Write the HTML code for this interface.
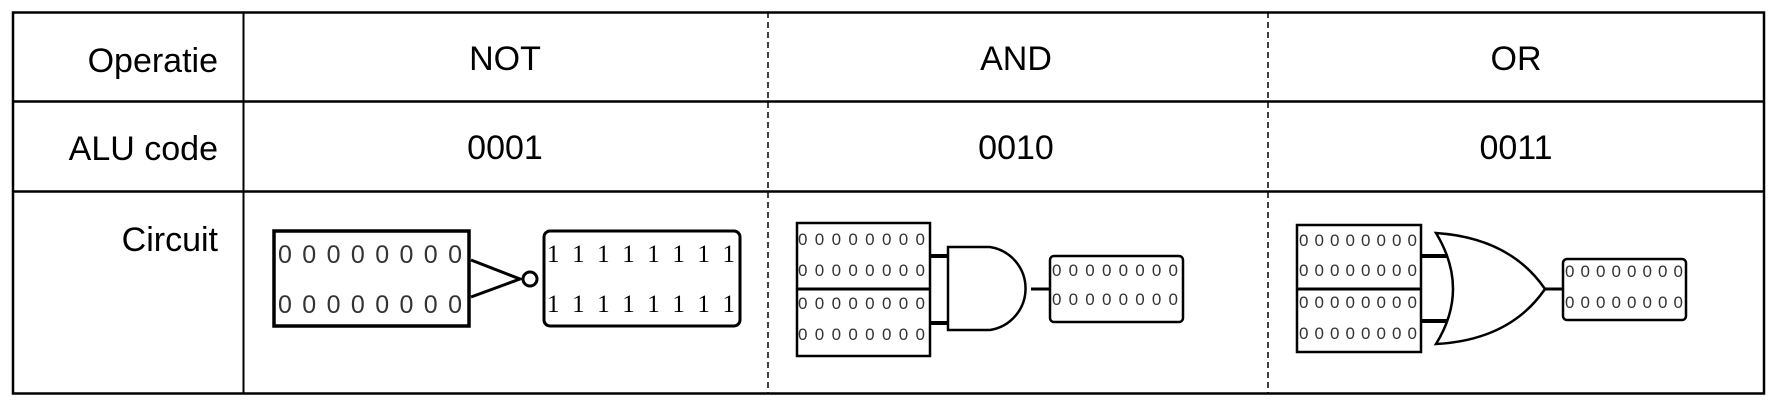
<!DOCTYPE html>
<html><head><meta charset="utf-8"><style>
html,body{margin:0;padding:0;background:#fff;}
svg{display:block;}
</style></head><body>
<svg width="1773" height="405" viewBox="0 0 1773 405" xmlns="http://www.w3.org/2000/svg">
<g font-family="Liberation Sans, Arial, sans-serif" font-size="34" fill="#000">
<text x="218" y="72" text-anchor="end">Operatie</text>
<text x="218" y="160" text-anchor="end">ALU code</text>
<text x="218" y="251" text-anchor="end">Circuit</text>
<text x="505" y="70" text-anchor="middle">NOT</text>
<text x="1016" y="70" text-anchor="middle">AND</text>
<text x="1516" y="70" text-anchor="middle">OR</text>
<text x="505" y="159" text-anchor="middle">0001</text>
<text x="1016" y="159" text-anchor="middle">0010</text>
<text x="1516" y="159" text-anchor="middle">0011</text>
</g>
<g stroke="#000" fill="none">
<rect x="13" y="12.5" width="1751" height="381" stroke-width="2.5"/>
<line x1="13" y1="101.5" x2="1764" y2="101.5" stroke-width="2.5"/>
<line x1="13" y1="191.5" x2="1764" y2="191.5" stroke-width="2.5"/>
<line x1="243.5" y1="12" x2="243.5" y2="394" stroke-width="2"/>
<line x1="768" y1="12" x2="768" y2="394" stroke-width="1.5" stroke-dasharray="6,4"/>
<line x1="1268" y1="12" x2="1268" y2="394" stroke-width="1.5" stroke-dasharray="6,4"/>
</g>
<!-- NOT -->
<g stroke="#000" fill="none" stroke-width="3.5">
<rect x="274" y="231" width="195" height="95"/>
<rect x="544" y="231" width="196" height="95" rx="6" stroke-width="3"/>
<path d="M471 260 L520 279 L471 297" stroke-width="3"/>
<circle cx="530" cy="279" r="7" stroke-width="3"/>
</g>
<g font-family="Liberation Sans, sans-serif" fill="#333" font-size="25">
<text x="278" y="263" textLength="184" lengthAdjust="spacing" transform="">00000000</text>
<text x="278" y="313" textLength="184" lengthAdjust="spacing">00000000</text>
</g>
<g font-family="Liberation Serif, serif" fill="#000" font-size="25">
<text x="547" y="262" textLength="188" lengthAdjust="spacing">11111111</text>
<text x="547" y="312" textLength="188" lengthAdjust="spacing">11111111</text>
</g>
<!-- AND -->
<g stroke="#000" fill="none" stroke-width="2.5">
<rect x="797" y="223" width="133" height="133"/>
<line x1="797" y1="289" x2="930" y2="289" stroke-width="3"/>
<line x1="930" y1="256" x2="948" y2="256" stroke-width="4"/>
<line x1="930" y1="323" x2="948" y2="323" stroke-width="4"/>
<path d="M948 247 L990 247 A42 42 0 0 1 990 330 L948 330 Z"/>
<line x1="1031" y1="289" x2="1050" y2="289" stroke-width="3"/>
<rect x="1050" y="256" width="133" height="66" rx="4"/>
</g>
<g font-family="Liberation Sans, sans-serif" fill="#333" font-size="17">
<text x="798" y="245" textLength="127" lengthAdjust="spacing">00000000</text>
<text x="798" y="276" textLength="127" lengthAdjust="spacing">00000000</text>
<text x="798" y="309" textLength="127" lengthAdjust="spacing">00000000</text>
<text x="798" y="340" textLength="127" lengthAdjust="spacing">00000000</text>
<text x="1052" y="276" textLength="126" lengthAdjust="spacing">00000000</text>
<text x="1052" y="305" textLength="126" lengthAdjust="spacing">00000000</text>
</g>
<!-- OR -->
<g stroke="#000" fill="none" stroke-width="2.5">
<rect x="1297" y="225" width="124" height="127"/>
<line x1="1297" y1="289" x2="1421" y2="289" stroke-width="3"/>
<line x1="1421" y1="256" x2="1447" y2="256" stroke-width="4"/>
<line x1="1421" y1="321" x2="1447" y2="321" stroke-width="4"/>
<path d="M1436 233 Q1470 289 1436 344 Q1510 340 1545 289 Q1510 238 1436 233 Z"/>
<line x1="1545" y1="289" x2="1563" y2="289" stroke-width="3"/>
<rect x="1563" y="259" width="123" height="61" rx="4"/>
</g>
<g font-family="Liberation Sans, sans-serif" fill="#333" font-size="17">
<text x="1299" y="246" textLength="118" lengthAdjust="spacing">00000000</text>
<text x="1299" y="276" textLength="118" lengthAdjust="spacing">00000000</text>
<text x="1299" y="308" textLength="118" lengthAdjust="spacing">00000000</text>
<text x="1299" y="339" textLength="118" lengthAdjust="spacing">00000000</text>
<text x="1565" y="277" textLength="118" lengthAdjust="spacing">00000000</text>
<text x="1565" y="308" textLength="118" lengthAdjust="spacing">00000000</text>
</g>
</svg>
</body></html>
